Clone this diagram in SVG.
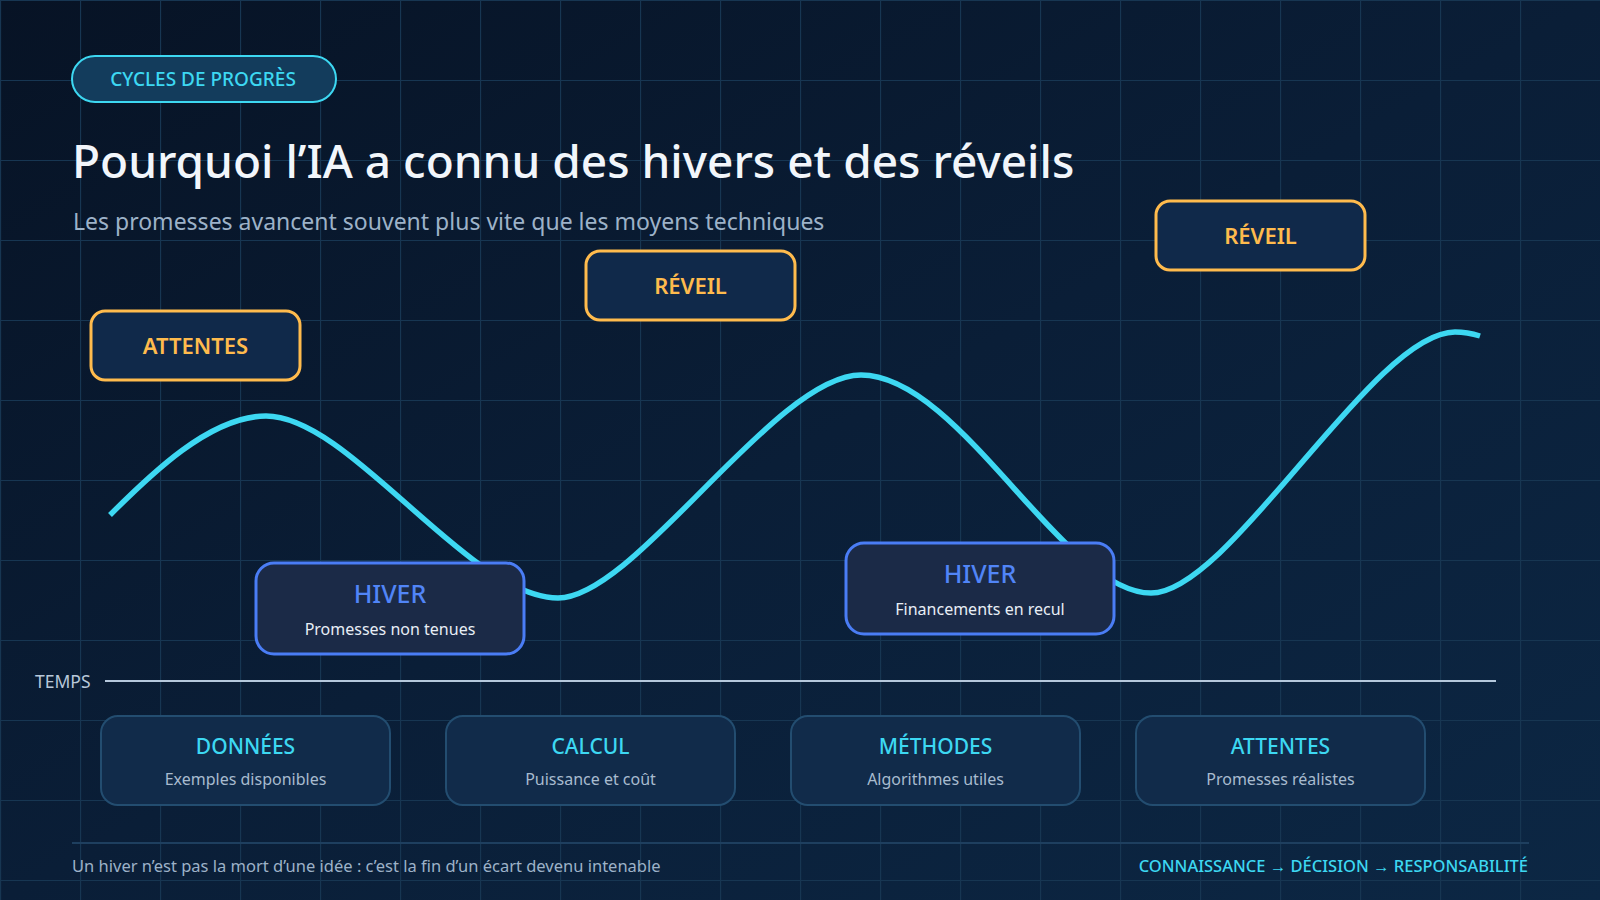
<svg xmlns="http://www.w3.org/2000/svg" width="1600" height="900" viewBox="0 0 1600 900">
  <defs>
    <linearGradient id="bg" x1="0" y1="0" x2="1" y2="1">
      <stop offset="0" stop-color="#071325"/>
      <stop offset="0.5" stop-color="#0a1e37"/>
      <stop offset="1" stop-color="#0c2744"/>
    </linearGradient>
    <pattern id="grid" x="0" y="0" width="80" height="80" patternUnits="userSpaceOnUse">
      <path d="M0,0.5 H80 M0.5,0 V80" fill="none" stroke="#173652" stroke-width="1.2"/>
    </pattern>
    <style>
      text { font-family: "Noto Sans", "Open Sans", "Liberation Sans", sans-serif; }
      .peak rect { fill: #10294a; stroke: #ffbb4d; stroke-width: 3; }
      .peak text { fill: #ffbb4d; font-size: 22px; font-weight: 600; text-anchor: middle; }
      .winter rect { fill: #1b2a47; stroke: #4a7df5; stroke-width: 3; }
      .winter .t { fill: #5185f7; font-size: 25px; font-weight: 500; text-anchor: middle; }
      .winter .s { fill: #e8eef6; font-size: 16px; text-anchor: middle; }
      .factor rect { fill: #112b4a; stroke: #234d70; stroke-width: 2; }
      .factor .t { fill: #3dd8f2; font-size: 21px; font-weight: 500; text-anchor: middle; }
      .factor .s { fill: #a8bbcf; font-size: 16px; text-anchor: middle; }
    </style>
  </defs>

  <rect width="1600" height="900" fill="url(#bg)"/>
  <rect width="1600" height="900" fill="url(#grid)"/>

  <g id="tag">
    <rect x="72" y="56" width="264" height="46" rx="23" fill="#133c5c" stroke="#3dd8f2" stroke-width="2"/>
    <text x="203" y="86" font-size="19" font-weight="500" fill="#3dd8f2" text-anchor="middle">CYCLES DE PROGRÈS</text>
  </g>

  <g id="header">
    <text x="72" y="178" font-size="46" font-weight="500" fill="#f2f6fb">Pourquoi l’IA a connu des hivers et des réveils</text>
    <text x="73" y="230" font-size="23" fill="#9db2c8">Les promesses avancent souvent plus vite que les moyens techniques</text>
  </g>

  <g id="connectors">
    <path d="M110,515 C150,475 210,416 266,416 C350,416 469,598 558,598 C635,598 775,375 861,375 C960,375 1063,593 1151,593 C1230,593 1373,332 1455,332 C1465,332 1472,333.5 1480,336" fill="none" stroke="#3dd8f2" stroke-width="5.5"/>
    <line x1="105" y1="681" x2="1496" y2="681" stroke="#b5c8dc" stroke-width="2"/>
  </g>

  <g id="attentes-peak" class="peak">
    <rect x="91" y="311" width="209" height="69" rx="14"/>
    <text x="195.5" y="354">ATTENTES</text>
  </g>
  <g id="reveil-1" class="peak">
    <rect x="586" y="251" width="209" height="69" rx="14"/>
    <text x="690.5" y="294">RÉVEIL</text>
  </g>
  <g id="reveil-2" class="peak">
    <rect x="1156" y="201" width="209" height="69" rx="14"/>
    <text x="1260.5" y="244">RÉVEIL</text>
  </g>

  <g id="hiver-1" class="winter">
    <rect x="256" y="563" width="268" height="91" rx="18"/>
    <text class="t" x="390" y="603">HIVER</text>
    <text class="s" x="390" y="635">Promesses non tenues</text>
  </g>
  <g id="hiver-2" class="winter">
    <rect x="846" y="543" width="268" height="91" rx="18"/>
    <text class="t" x="980" y="583">HIVER</text>
    <text class="s" x="980" y="615">Financements en recul</text>
  </g>

  <g id="axis-label">
    <text x="35" y="688" font-size="17.5" fill="#b8c8da">TEMPS</text>
  </g>

  <g id="donnees" class="factor">
    <rect x="101" y="716" width="289" height="89" rx="17"/>
    <text class="t" x="245.5" y="754">DONNÉES</text>
    <text class="s" x="245.5" y="785">Exemples disponibles</text>
  </g>
  <g id="calcul" class="factor">
    <rect x="446" y="716" width="289" height="89" rx="17"/>
    <text class="t" x="590.5" y="754">CALCUL</text>
    <text class="s" x="590.5" y="785">Puissance et coût</text>
  </g>
  <g id="methodes" class="factor">
    <rect x="791" y="716" width="289" height="89" rx="17"/>
    <text class="t" x="935.5" y="754">MÉTHODES</text>
    <text class="s" x="935.5" y="785">Algorithmes utiles</text>
  </g>
  <g id="attentes-factor" class="factor">
    <rect x="1136" y="716" width="289" height="89" rx="17"/>
    <text class="t" x="1280.5" y="754">ATTENTES</text>
    <text class="s" x="1280.5" y="785">Promesses réalistes</text>
  </g>

  <g id="footer">
    <line x1="72" y1="843" x2="1529" y2="843" stroke="#1e3f5f" stroke-width="2"/>
    <text x="72" y="872" font-size="16.5" fill="#9db2c8">Un hiver n’est pas la mort d’une idée : c’est la fin d’un écart devenu intenable</text>
    <text x="1528" y="872" font-size="16.5" font-weight="500" fill="#3dd8f2" text-anchor="end">CONNAISSANCE → DÉCISION → RESPONSABILITÉ</text>
  </g>
</svg>
